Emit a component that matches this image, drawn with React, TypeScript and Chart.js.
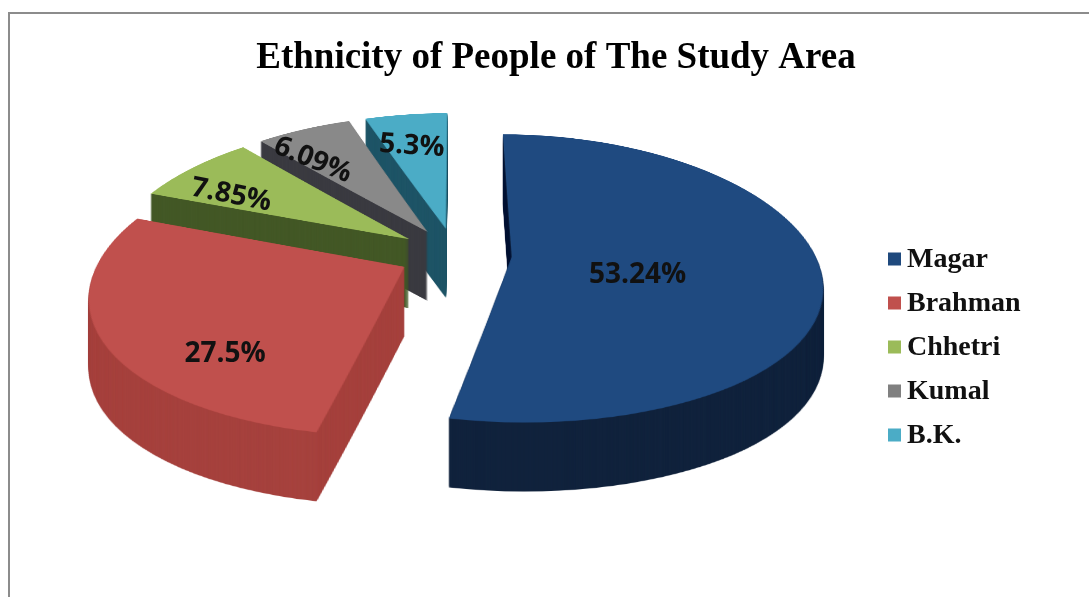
import React, { useEffect, useRef } from 'react';
import { Chart, registerables } from 'chart.js';

Chart.register(...registerables);

// ---- data ----
const CATEGORIES = ['Magar', 'Brahman', 'Chhetri', 'Kumal', 'B.K.'];
const VALUES = [53.24, 27.5, 7.85, 6.09, 5.3];
const VALUE_LABELS = ['53.24%', '27.5%', '7.85%', '6.09%', '5.3%'];
const TITLE = 'Ethnicity of People of The Study Area';

// ---- styles ----
const TOP_COLORS = ['#1f4a80', '#c0504d', '#9bbb59', '#898989', '#4bacc6'];
const SIDE_COLORS = ['#11233d', '#a6423e', '#435826', '#3b3b41', '#1f5567'];
const LEGEND_COLORS = ['#1f497d', '#c0504d', '#9bbb59', '#808080', '#4bacc6'];
const LABEL_R = [0.42, 0.75, 0.73, 0.73, 0.7];
const LABEL_DTHETA = [12, -19, -7, -7, -1.5];
const LABEL_ROT = [0, 0, 11, 22, 4];

// 3D perspective view settings (screen px)
const VIEW = {
  cx: 455, // vanishing axis x
  cy: 254, // screen row of the plane centre
  sx: 303, // horizontal radius at the centre depth
  qx: 0.184, // horizontal perspective
  v: 140, // vertical radius factor
  qy: 0.15, // vertical perspective
  explode: 0.1875, // slice explosion (fraction of radius)
  depth: 69, // thickness of the pie
};

// top-view raster
const TOP = { w: 800, h: 800, ox: 400, oy: 400, p: 300 };

function projX(X: number, B: number) {
  return VIEW.cx + (X * VIEW.sx) / (1 + VIEW.qx * B);
}
function projY(B: number) {
  return VIEW.cy - (VIEW.v * B) / (1 + VIEW.qy * B);
}
function invY(y: number) {
  const t = (VIEW.cy - y) / VIEW.v;
  return t / (1 - VIEW.qy * t);
}

function drawTop(ctx: CanvasRenderingContext2D, el: any, color: string) {
  const mid = (el.startAngle + el.endAngle) / 2;
  ctx.save();
  ctx.translate(
    TOP.ox + VIEW.explode * TOP.p * Math.cos(mid),
    TOP.oy + VIEW.explode * TOP.p * Math.sin(mid)
  );
  ctx.scale(TOP.p / el.outerRadius, TOP.p / el.outerRadius);
  ctx.translate(-el.x, -el.y);
  const orig = el.options;
  el.options = { ...orig, backgroundColor: color, borderWidth: 0, offset: 0, spacing: 0 };
  el.draw(ctx);
  el.options = orig;
  ctx.restore();
}

// perspective warp of the top-view raster, row by row
function warp(src: HTMLCanvasElement, dst: CanvasRenderingContext2D) {
  let yMin = Infinity;
  let yMax = -Infinity;
  for (let y = 60; y < 560; y++) {
    const bTop = invY(y);
    const bBot = invY(y + 1);
    let rTop = TOP.oy - bTop * TOP.p;
    let rBot = TOP.oy - bBot * TOP.p;
    if (rBot <= 0 || rTop >= TOP.h) continue;
    rTop = Math.max(0, rTop);
    rBot = Math.min(TOP.h, rBot);
    if (rBot - rTop <= 0) continue;
    const bMid = invY(y + 0.5);
    const s = VIEW.sx / (TOP.p * (1 + VIEW.qx * bMid));
    dst.drawImage(src, 0, rTop, TOP.w, rBot - rTop, VIEW.cx - TOP.ox * s, y, TOP.w * s, 1);
    yMin = Math.min(yMin, y);
    yMax = Math.max(yMax, y);
  }
  return { yMin, yMax };
}

const pie3d: any = {
  id: 'pie3d',
  beforeDraw(chart: any) {
    const ctx = chart.ctx as CanvasRenderingContext2D;
    ctx.save();
    ctx.fillStyle = '#ffffff';
    ctx.fillRect(0, 0, chart.width, chart.height);
    ctx.fillStyle = '#8c8c8c';
    ctx.fillRect(8, 12, 2, chart.height - 12);
    ctx.fillRect(8, 12, chart.width - 8, 2);
    ctx.restore();
  },
  beforeDatasetsDraw(chart: any) {
    const ctx = chart.ctx as CanvasRenderingContext2D;
    const meta = chart.getDatasetMeta(0);
    const topCanvas = document.createElement('canvas');
    topCanvas.width = TOP.w;
    topCanvas.height = TOP.h;
    const tctx = topCanvas.getContext('2d') as CanvasRenderingContext2D;
    const sideCanvas = document.createElement('canvas');
    sideCanvas.width = chart.width;
    sideCanvas.height = chart.height;
    const sctx = sideCanvas.getContext('2d') as CanvasRenderingContext2D;

    const items = meta.data.map((el: any, i: number) => {
      const mid = (el.startAngle + el.endAngle) / 2;
      // back distance of the slice apex (positive = further from viewer)
      const back = -VIEW.explode * Math.sin(mid);
      return { el, i, mid, back };
    });
    const order = [...items].sort((a, b) => b.back - a.back);

    for (const it of order) {
      // sides: extruded silhouette
      tctx.clearRect(0, 0, TOP.w, TOP.h);
      drawTop(tctx, it.el, SIDE_COLORS[it.i]);
      sctx.clearRect(0, 0, sideCanvas.width, sideCanvas.height);
      const { yMin, yMax } = warp(topCanvas, sctx);
      if (yMax >= yMin) {
        const h = yMax - yMin + 1;
        for (let d = VIEW.depth; d >= 1; d--) {
          ctx.drawImage(sideCanvas, 0, yMin, sideCanvas.width, h, 0, yMin + d, sideCanvas.width, h);
        }
      }
      // top face
      tctx.clearRect(0, 0, TOP.w, TOP.h);
      drawTop(tctx, it.el, TOP_COLORS[it.i]);
      warp(topCanvas, ctx);
    }

    // value labels on the top faces
    ctx.save();
    ctx.font = 'bold 28px "Open Sans", "Noto Sans", sans-serif';
    ctx.textAlign = 'center';
    ctx.textBaseline = 'middle';
    ctx.fillStyle = '#111111';
    for (const it of items) {
      const apexX = VIEW.explode * Math.cos(it.mid);
      const apexB = -VIEW.explode * Math.sin(it.mid);
      const a = it.mid + (LABEL_DTHETA[it.i] * Math.PI) / 180;
      const X = apexX + LABEL_R[it.i] * Math.cos(a);
      const B = apexB - LABEL_R[it.i] * Math.sin(a);
      ctx.save();
      ctx.translate(projX(X, B), projY(B));
      ctx.rotate((LABEL_ROT[it.i] * Math.PI) / 180);
      ctx.fillText(VALUE_LABELS[it.i], 0, 0);
      ctx.restore();
    }
    ctx.restore();
    return false;
  },
  afterDraw(chart: any) {
    const ctx = chart.ctx as CanvasRenderingContext2D;
    ctx.save();
    ctx.font = 'bold 28px "Liberation Serif", "Times New Roman", serif';
    ctx.textAlign = 'left';
    ctx.textBaseline = 'alphabetic';
    CATEGORIES.forEach((name, i) => {
      const cy = 259 + 44 * i;
      ctx.fillStyle = LEGEND_COLORS[i];
      ctx.fillRect(888, cy - 6.5, 13, 13);
      ctx.fillStyle = '#111111';
      ctx.fillText(name, 907, cy + 8);
    });
    ctx.restore();
  },
};

export default function App() {
  const ref = useRef<HTMLCanvasElement>(null);
  useEffect(() => {
    document.body.style.margin = '0';
    const chart = new Chart(ref.current as HTMLCanvasElement, {
      type: 'pie',
      data: {
        labels: CATEGORIES,
        datasets: [
          {
            data: VALUES,
            backgroundColor: TOP_COLORS,
            borderWidth: 0,
          },
        ],
      },
      options: {
        responsive: false,
        animation: false,
        devicePixelRatio: 1,
        events: [],
        layout: { padding: { left: 23, top: 26, right: 0, bottom: 0 } },
        plugins: {
          legend: { display: false },
          tooltip: { enabled: false },
          title: {
            display: true,
            text: TITLE,
            color: '#000000',
            font: { family: '"Liberation Serif", "Times New Roman", serif', size: 37, weight: 'bold' },
            padding: { top: 10, bottom: 10 },
          },
        },
      },
      plugins: [pie3d],
    });
    return () => chart.destroy();
  }, []);
  return <canvas ref={ref} width={1089} height={597} style={{ display: 'block', width: 1089, height: 597 }} />;
}
